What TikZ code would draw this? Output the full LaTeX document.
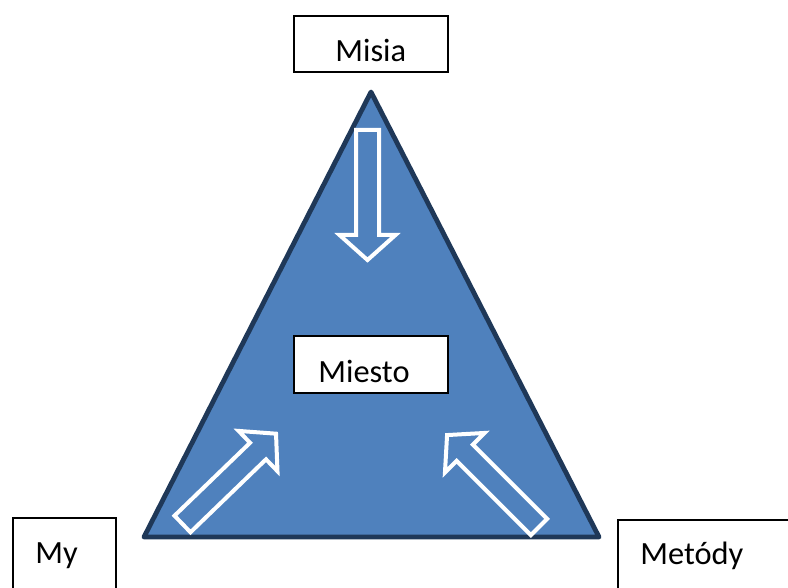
\documentclass[tikz,border=0pt]{standalone}
\usepackage{fontspec}
\setmainfont{Carlito}
\usepackage{tikz}
\usetikzlibrary{positioning}
\definecolor{triblue}{RGB}{79,129,189}
\definecolor{trinavy}{RGB}{31,56,88}
\tikzset{box/.style = {draw, line width = 0.8pt, fill = white, inner sep = 0,
                       minimum width = 77pt, minimum height = 28pt}}
\tikzset{lbl/.style = {inner sep = 0, anchor = base west,
                       font = \fontsize{16.2}{19}\selectfont}}
\tikzset{hollowarrow/.pic = {\draw [white, line width = 2pt, line join = miter]
      (0, -11.5) -- (105, -11.5) -- (105, -28) -- (130, 0)
      -- (105, 28) -- (105, 11.5) -- (0, 11.5) -- cycle;}}

\begin{document}
\begin{tikzpicture}[x = 0.5pt, y = -0.5pt]
      \useasboundingbox (0, 0) rectangle (788, 588);
      \clip (0, 0) rectangle (788, 588);

      \coordinate (top) at (371, 92);
      \coordinate (left) at (144, 537);
      \coordinate (right) at (599, 537);
      \draw [fill = triblue, draw = trinavy, line width = 2.4pt, line join = round]
            (top) -- (left) -- (right) -- cycle;

      \pic [rotate = -90] at (367.5, 130) {hollowarrow};
      \pic [rotate = 44] at (182.5, 524) {hollowarrow};
      \pic [rotate = 135] at (539, 527) {hollowarrow};

      \node [box] (misiabox) at (371, 44) {};
      \node [lbl] (misia) at (335, 62) {Misia};

      \node [box, minimum height = 28.5pt] (miestobox) at (371, 364.5) {};
      \node [lbl] (miesto) at (318, 383) {Miesto};

      \node [box, anchor = north west, minimum width = 51.5pt, minimum height = 50pt]
            (mybox) at (12, 517) {};
      \node [lbl] (my) at (35, 563) {My};

      \node [box, anchor = north west, minimum width = 100pt, minimum height = 50pt]
            (metodybox) at (617, 519) {};
      \node [lbl] (metody) at (640, 565) {Metódy};
\end{tikzpicture}
\end{document}
